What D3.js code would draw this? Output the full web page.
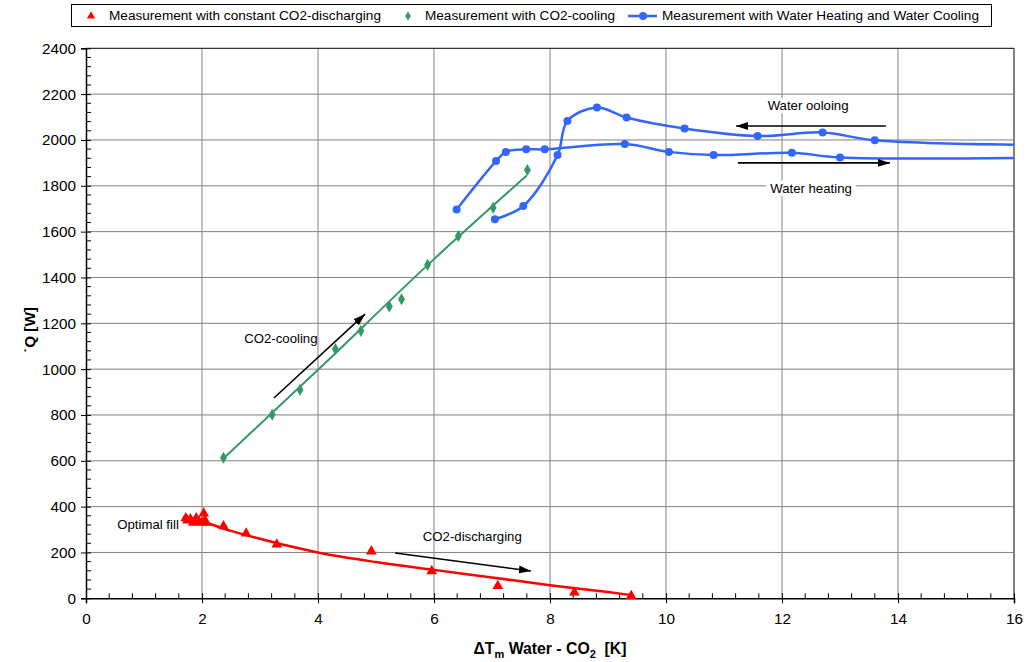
<!DOCTYPE html>
<html>
<head>
<meta charset="utf-8">
<script src="https://cdn.jsdelivr.net/npm/d3@7/dist/d3.min.js"></script>
<style>
  html, body { margin: 0; padding: 0; background: #fff; }
  svg { display: block; font-family: "Liberation Sans", Arial, sans-serif; }
</style>
</head>
<body>
<svg id="chart" width="1026" height="662"></svg>
<script>
// ---------- data ----------
const xTicks = [0, 2, 4, 6, 8, 10, 12, 14, 16];
const yTicks = [0, 200, 400, 600, 800, 1000, 1200, 1400, 1600, 1800, 2000, 2200, 2400];

const legendLabels = [
  "Measurement with constant CO2-discharging",
  "Measurement with CO2-cooling",
  "Measurement with Water Heating and Water Cooling"
];

// Measurement with constant CO2-discharging
const dischargeX = [1.72, 1.75, 1.8, 1.85, 1.9, 1.95, 2.0, 2.03, 2.05, 2.07, 2.37, 2.76, 3.29, 4.92, 5.96, 7.1, 8.42, 9.4];
const dischargeY = [350, 340, 345, 330, 350, 335, 330, 370, 340, 330, 315, 283, 235, 205, 119, 54, 26, 10];
// trend line of discharging
const dischargeFitX = [1.75, 2, 2.5, 3, 3.5, 4, 5, 6, 7, 8, 9, 9.4];
const dischargeFitY = [350, 335, 294, 260, 228, 200, 158, 124, 91, 57, 27, 14];

// Measurement with CO2-cooling
const coolingX = [2.37, 3.21, 3.69, 4.30, 4.74, 5.23, 5.44, 5.89, 6.42, 7.02, 7.61];
const coolingY = [613, 801, 910, 1088, 1167, 1273, 1305, 1455, 1581, 1704, 1869];
// trend line of CO2-cooling
const coolingFitX = [2.37, 4, 6, 7.6];
const coolingFitY = [610, 997, 1480, 1845];

// Measurement with Water Heating and Water Cooling
const waterHeatX = [6.39, 7.07, 7.24, 7.59, 7.91, 9.29, 10.05, 10.82, 12.17, 13.0, 17.5];
const waterHeatY = [1697, 1908, 1948, 1959, 1959, 1982, 1948, 1934, 1944, 1924, 1926];
const waterCoolX = [7.05, 7.54, 8.13, 8.30, 8.81, 9.32, 10.32, 11.58, 12.70, 13.6, 18];
const waterCoolY = [1654, 1712, 1934, 2083, 2142, 2098, 2050, 2017, 2033, 1999, 1975];

// ---------- layout ----------
const svg = d3.select("#chart");
const L = 86, R = 1014, T = 48.3, B = 598.3;
const x = d3.scaleLinear().domain([0, 16]).range([L, R]);
const y = d3.scaleLinear().domain([0, 2400]).range([B, T]);

const RED = "#FF0000", GREEN = "#339966", BLUE = "#3366FF";
const zip = (xs, ys) => xs.map((v, i) => [v, ys[i]]);

const defs = svg.append("defs");
defs.append("clipPath").attr("id", "plotclip")
  .append("rect").attr("x", L).attr("y", T - 10).attr("width", R - L).attr("height", B - T + 20);

const marker = defs.append("marker")
  .attr("id", "arrow").attr("viewBox", "0 0 12 8").attr("refX", 12).attr("refY", 4)
  .attr("markerWidth", 12).attr("markerHeight", 8).attr("markerUnits", "userSpaceOnUse")
  .attr("orient", "auto");
marker.append("path").attr("d", "M0,0 L12,4 L0,8 Z").attr("fill", "#000");

// grid
const grid = svg.append("g");
grid.selectAll(".gx").data(xTicks.slice(1)).join("line")
  .attr("x1", d => x(d)).attr("x2", d => x(d)).attr("y1", T).attr("y2", B)
  .attr("stroke", d => d === 16 ? "#000" : "#808080").attr("stroke-width", 1);
grid.selectAll(".gy").data(yTicks.slice(1)).join("line")
  .attr("x1", L).attr("x2", R).attr("y1", d => y(d)).attr("y2", d => y(d))
  .attr("stroke", d => d === 2400 ? "#000" : "#808080").attr("stroke-width", 1);

// axes
const xAxis = d3.axisBottom(x).tickValues(xTicks).tickSize(5).tickPadding(10).tickFormat(d3.format("d"));
const yAxis = d3.axisLeft(y).tickValues(yTicks).tickSize(5).tickPadding(5).tickFormat(d3.format("d"));
const gx = svg.append("g").attr("transform", `translate(0,${B})`).call(xAxis);
const gy = svg.append("g").attr("transform", `translate(${L},0)`).call(yAxis);
[gx, gy].forEach(g => {
  g.select(".domain").attr("stroke", "#000").attr("stroke-width", 1.5);
  g.selectAll(".tick line").attr("stroke", "#000").attr("stroke-width", 1);
  g.selectAll(".tick text").attr("font-size", 15.3).attr("fill", "#000")
    .attr("font-family", "Liberation Sans, Arial, sans-serif");
});
gx.selectAll(".tick line").attr("y1", -5).attr("y2", 5);
gy.selectAll(".tick line").attr("x1", 5).attr("x2", -5);
// minor ticks (inside)
const xMinor = d3.range(0, 16.001, 0.4).filter(v => Math.abs(v / 2 - Math.round(v / 2)) > 1e-6);
const yMinor = d3.range(0, 2400.1, 40).filter(v => v % 200 !== 0);
svg.append("g").selectAll("line").data(xMinor).join("line")
  .attr("x1", d => x(d)).attr("x2", d => x(d)).attr("y1", B).attr("y2", B - 5)
  .attr("stroke", "#000");
svg.append("g").selectAll("line").data(yMinor).join("line")
  .attr("x1", L).attr("x2", L + 5).attr("y1", d => y(d)).attr("y2", d => y(d))
  .attr("stroke", "#000");

// axis titles
const xt = svg.append("text").attr("x", 550).attr("y", 654).attr("text-anchor", "middle")
  .attr("font-size", 15.8).attr("font-weight", "bold");
xt.append("tspan").text("\u0394T");
xt.append("tspan").text("m").attr("font-size", 11).attr("dy", 4);
xt.append("tspan").text(" Water - CO").attr("dy", -4);
xt.append("tspan").text("2").attr("font-size", 11).attr("dy", 4);
xt.append("tspan").text("\u00A0 [K]").attr("dy", -4);

const yt = svg.append("text").attr("transform", "translate(35,330) rotate(-90)")
  .attr("text-anchor", "middle").attr("font-size", 15.3).attr("font-weight", "bold");
yt.text("\u02D9Q [W]");

// plot content
const plot = svg.append("g").attr("clip-path", "url(#plotclip)");
const smooth = d3.line().x(d => x(d[0])).y(d => y(d[1])).curve(d3.curveCatmullRom.alpha(0.5));
const fitLine = d3.line().x(d => x(d[0])).y(d => y(d[1])).curve(d3.curveMonotoneX);

plot.append("path").attr("d", fitLine(zip(dischargeFitX, dischargeFitY)))
  .attr("fill", "none").attr("stroke", RED).attr("stroke-width", 2.5);
plot.append("path").attr("d", fitLine(zip(coolingFitX, coolingFitY)))
  .attr("fill", "none").attr("stroke", GREEN).attr("stroke-width", 2);
[zip(waterHeatX, waterHeatY), zip(waterCoolX, waterCoolY)].forEach(pts => {
  plot.append("path").attr("d", smooth(pts)).attr("fill", "none")
    .attr("stroke", BLUE).attr("stroke-width", 2.5);
  plot.append("g").selectAll("circle").data(pts).join("circle")
    .attr("cx", d => x(d[0])).attr("cy", d => y(d[1])).attr("r", 4).attr("fill", BLUE);
});
const diamond = d3.symbol().type(d3.symbolDiamond).size(42);
plot.append("g").selectAll("path").data(zip(coolingX, coolingY)).join("path")
  .attr("d", diamond).attr("transform", d => `translate(${x(d[0])},${y(d[1])})`).attr("fill", GREEN);
const tri = d3.symbol().type(d3.symbolTriangle).size(50);
plot.append("g").selectAll("path").data(zip(dischargeX, dischargeY)).join("path")
  .attr("d", tri).attr("transform", d => `translate(${x(d[0])},${y(d[1])})`).attr("fill", RED);

// annotations
function arrow(x1, y1, x2, y2) {
  svg.append("line").attr("x1", x(x1)).attr("y1", y(y1)).attr("x2", x(x2)).attr("y2", y(y2))
    .attr("stroke", "#000").attr("stroke-width", 1.6).attr("marker-end", "url(#arrow)");
}
function label(tx, ty, str, bg) {
  const t = svg.append("text").attr("x", x(tx)).attr("y", y(ty)).attr("dy", "0.35em")
    .attr("text-anchor", "middle").attr("font-size", 13.2).attr("fill", "#000").text(str);
  if (bg) {
    const b = t.node().getBBox();
    svg.insert("rect", () => t.node()).attr("x", b.x - 4).attr("y", b.y).attr("width", b.width + 8)
      .attr("height", b.height).attr("fill", "#fff");
  }
}
label(12.45, 2150, "Water ooloing", true);
arrow(13.79, 2061, 11.21, 2061);
label(12.5, 1790, "Water heating", true);
arrow(11.24, 1900, 13.86, 1900);
label(3.36, 1136, "CO2-cooling", false);
arrow(3.24, 874, 4.81, 1240);
label(6.66, 272, "CO2-discharging", false);
arrow(5.33, 198, 7.67, 119);
label(1.07, 324, "Optimal fill", false);

// legend
const lg = svg.append("g");
lg.append("rect").attr("x", 71.5).attr("y", 4.5).attr("width", 920).attr("height", 22)
  .attr("fill", "#fff").attr("stroke", "#000").attr("stroke-width", 1);
const ly = 16;
lg.append("path").attr("d", d3.symbol().type(d3.symbolTriangle).size(30))
  .attr("transform", `translate(91,${ly})`).attr("fill", RED);
lg.append("path").attr("d", d3.symbol().type(d3.symbolDiamond).size(26))
  .attr("transform", `translate(408,${ly})`).attr("fill", GREEN);
lg.append("line").attr("x1", 628).attr("x2", 657).attr("y1", ly).attr("y2", ly)
  .attr("stroke", BLUE).attr("stroke-width", 2.5);
lg.append("circle").attr("cx", 643).attr("cy", ly).attr("r", 4).attr("fill", BLUE);
const legPos = [[109, 272], [425, 190], [662, 317]];
legendLabels.forEach((s, i) => {
  lg.append("text").attr("x", legPos[i][0]).attr("y", ly).attr("dy", "0.35em")
    .attr("font-size", 12.5).attr("textLength", legPos[i][1]).attr("lengthAdjust", "spacingAndGlyphs")
    .text(s);
});
</script>
</body>
</html>
